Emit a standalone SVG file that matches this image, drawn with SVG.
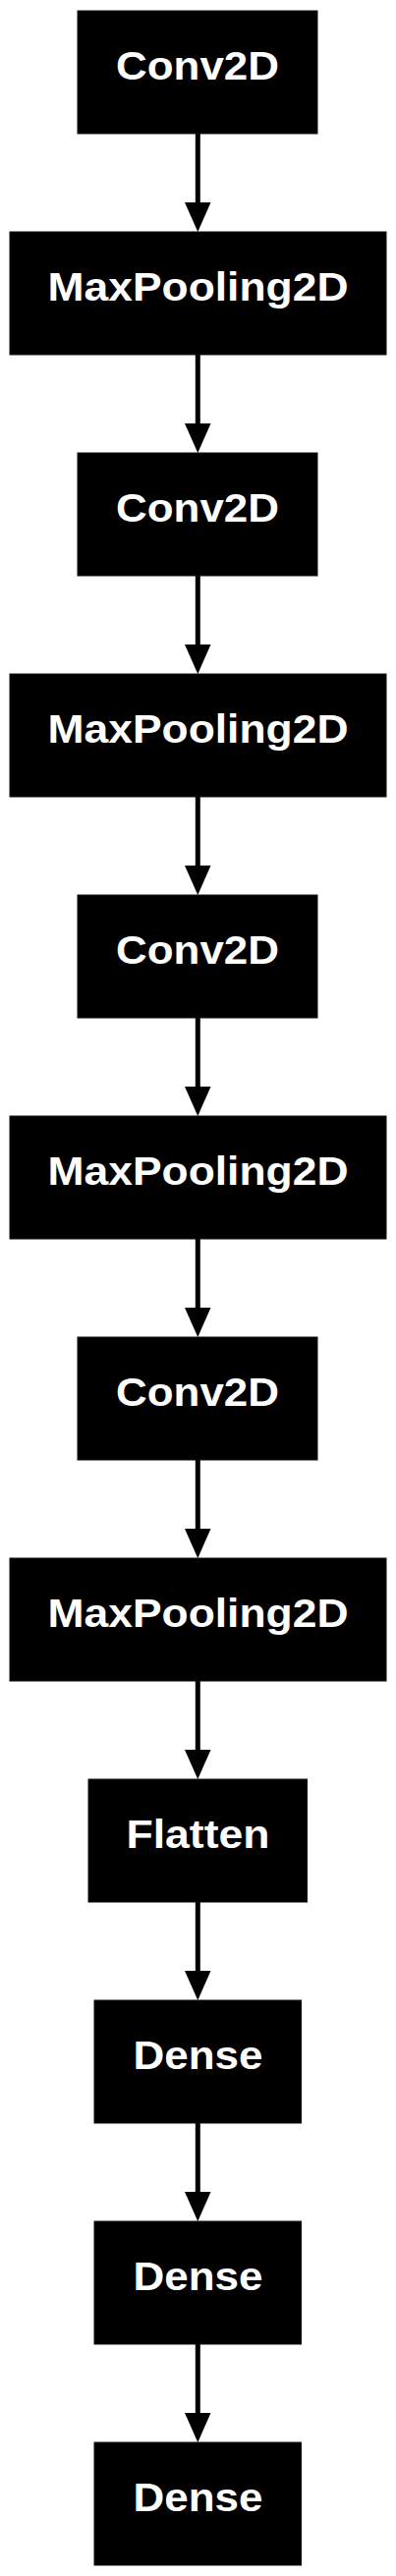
<svg xmlns="http://www.w3.org/2000/svg" width="403" height="2622" viewBox="0 0 403 2622">
<style>
.box{fill:#000;stroke:#111;stroke-width:1}
.lbl{fill:#fff;font-family:"Liberation Sans",Arial,sans-serif;font-weight:bold;font-size:41px;text-anchor:middle}
.edge{stroke:#000;stroke-width:5;fill:none}
.head{fill:#000;stroke:none}
</style>
<rect width="403" height="2622" fill="#fff"/>
<g id="connectors">
<line class="edge" x1="201.3" y1="136" x2="201.3" y2="208"/><polygon class="head" points="188,206 214.5,206 201.3,236"/>
<line class="edge" x1="201.3" y1="361" x2="201.3" y2="433"/><polygon class="head" points="188,431 214.5,431 201.3,461"/>
<line class="edge" x1="201.3" y1="586" x2="201.3" y2="658"/><polygon class="head" points="188,656 214.5,656 201.3,686"/>
<line class="edge" x1="201.3" y1="811" x2="201.3" y2="883"/><polygon class="head" points="188,881 214.5,881 201.3,911"/>
<line class="edge" x1="201.3" y1="1036" x2="201.3" y2="1108"/><polygon class="head" points="188,1106 214.5,1106 201.3,1136"/>
<line class="edge" x1="201.3" y1="1261" x2="201.3" y2="1333"/><polygon class="head" points="188,1331 214.5,1331 201.3,1361"/>
<line class="edge" x1="201.3" y1="1486" x2="201.3" y2="1558"/><polygon class="head" points="188,1556 214.5,1556 201.3,1586"/>
<line class="edge" x1="201.3" y1="1711" x2="201.3" y2="1783"/><polygon class="head" points="188,1781 214.5,1781 201.3,1811"/>
<line class="edge" x1="201.3" y1="1936" x2="201.3" y2="2008"/><polygon class="head" points="188,2006 214.5,2006 201.3,2036"/>
<line class="edge" x1="201.3" y1="2161" x2="201.3" y2="2233"/><polygon class="head" points="188,2231 214.5,2231 201.3,2261"/>
<line class="edge" x1="201.3" y1="2386" x2="201.3" y2="2458"/><polygon class="head" points="188,2456 214.5,2456 201.3,2486"/>
</g>
<g id="node1"><rect class="box" x="79" y="11" width="244" height="125"/><text class="lbl" x="201" y="81" textLength="166" lengthAdjust="spacingAndGlyphs">Conv2D</text></g>
<g id="node2"><rect class="box" x="10" y="236" width="383" height="125"/><text class="lbl" x="201.5" y="306" textLength="306" lengthAdjust="spacingAndGlyphs">MaxPooling2D</text></g>
<g id="node3"><rect class="box" x="79" y="461" width="244" height="125"/><text class="lbl" x="201" y="531" textLength="166" lengthAdjust="spacingAndGlyphs">Conv2D</text></g>
<g id="node4"><rect class="box" x="10" y="686" width="383" height="125"/><text class="lbl" x="201.5" y="756" textLength="306" lengthAdjust="spacingAndGlyphs">MaxPooling2D</text></g>
<g id="node5"><rect class="box" x="79" y="911" width="244" height="125"/><text class="lbl" x="201" y="981" textLength="166" lengthAdjust="spacingAndGlyphs">Conv2D</text></g>
<g id="node6"><rect class="box" x="10" y="1136" width="383" height="125"/><text class="lbl" x="201.5" y="1206" textLength="306" lengthAdjust="spacingAndGlyphs">MaxPooling2D</text></g>
<g id="node7"><rect class="box" x="79" y="1361" width="244" height="125"/><text class="lbl" x="201" y="1431" textLength="166" lengthAdjust="spacingAndGlyphs">Conv2D</text></g>
<g id="node8"><rect class="box" x="10" y="1586" width="383" height="125"/><text class="lbl" x="201.5" y="1656" textLength="306" lengthAdjust="spacingAndGlyphs">MaxPooling2D</text></g>
<g id="node9"><rect class="box" x="90" y="1811" width="222.5" height="125"/><text class="lbl" x="201.5" y="1881" textLength="146" lengthAdjust="spacingAndGlyphs">Flatten</text></g>
<g id="node10"><rect class="box" x="96" y="2036" width="210.5" height="125"/><text class="lbl" x="201.5" y="2106" textLength="132" lengthAdjust="spacingAndGlyphs">Dense</text></g>
<g id="node11"><rect class="box" x="96" y="2261" width="210.5" height="125"/><text class="lbl" x="201.5" y="2331" textLength="132" lengthAdjust="spacingAndGlyphs">Dense</text></g>
<g id="node12"><rect class="box" x="96" y="2486" width="210.5" height="125"/><text class="lbl" x="201.5" y="2556" textLength="132" lengthAdjust="spacingAndGlyphs">Dense</text></g>
</svg>
